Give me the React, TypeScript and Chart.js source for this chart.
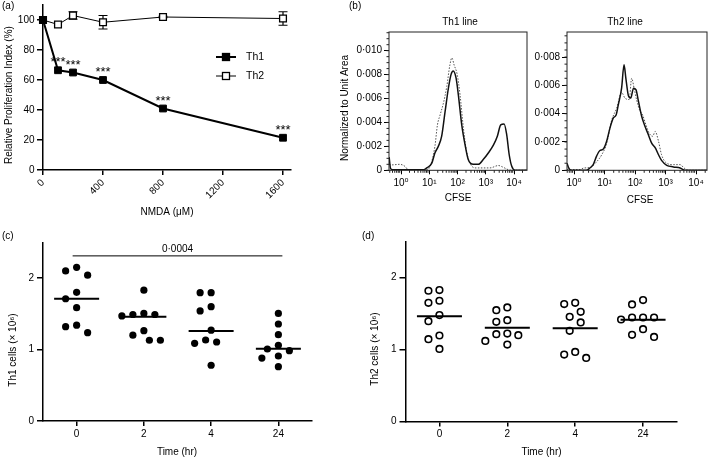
import React, { useEffect, useRef } from 'react';
import { Chart, registerables } from 'chart.js';

Chart.register(...registerables);

const FONT = "'Liberation Sans', Arial, Helvetica, 'DejaVu Sans', sans-serif";
Chart.defaults.font.family = FONT;
Chart.defaults.font.size = 10;
Chart.defaults.color = '#000';

// ---------------- (a) proliferation vs NMDA ----------------
const nmdaDoses = [0, 100, 200, 400, 800, 1600];
const th1Proliferation = [100, 66.5, 65, 60, 41, 21.5];
const th2Proliferation = [100, 97, 103, 98.5, 102, 101];
const th2ProliferationErr = [0, 0, 2.5, 4.5, 0.5, 4.5];
const th1Significance = ['', '***', '***', '***', '***', '***'];
const nmdaTicks = [0, 400, 800, 1200, 1600];
const proliferationTicks = [0, 20, 40, 60, 80, 100];

// ---------------- (b) CFSE histograms (log10 CFSE, density) ----------------
const cfseDecades = [0, 1, 2, 3, 4];
const th1SolidLogCfse = [-0.42, -0.37, -0.3, 0.8, 0.91, 1.09, 1.2, 1.32, 1.44, 1.56, 1.68, 1.77, 1.85, 1.95, 2.03, 2.15, 2.27, 2.38, 2.56, 2.74, 2.91, 3.09, 3.27, 3.41, 3.53, 3.65, 3.74, 3.83, 3.92, 4.04, 4.46];
const th1SolidDensity = [0.0011, 0.00015, 0.00005, 0.00005, 0.0002, 0.0006, 0.00145, 0.002, 0.00285, 0.0049, 0.0069, 0.008, 0.0083, 0.0077, 0.0063, 0.0038, 0.0021, 0.0009, 0.0005, 0.0005, 0.0009, 0.00145, 0.0021, 0.00285, 0.0038, 0.00387, 0.003, 0.0013, 0.00033, 0, 0];
const th1DottedLogCfse = [-0.42, -0.35, -0.04, 0.14, 0.26, 0.9, 1.03, 1.2, 1.29, 1.38, 1.5, 1.62, 1.73, 1.8, 1.88, 1.99, 2.09, 2.21, 2.32, 2.44, 2.62, 3.15, 3.45, 3.62, 3.8, 3.98, 4.46];
const th1DottedDensity = [0.0005, 0.00045, 0.0005, 0.00033, 0.00005, 0.00005, 0.00033, 0.002, 0.0038, 0.0046, 0.0056, 0.007, 0.0088, 0.0094, 0.0088, 0.008, 0.0063, 0.0035, 0.0016, 0.0006, 0.0002, 0.0002, 0.0004, 0.00025, 0.00005, 0, 0];
const th2SolidLogCfse = [-0.23, -0.17, -0.1, 0.4, 0.52, 0.63, 0.74, 0.85, 0.96, 1.07, 1.18, 1.29, 1.38, 1.45, 1.56, 1.64, 1.7, 1.78, 1.86, 1.95, 2.03, 2.11, 2.22, 2.33, 2.44, 2.55, 2.66, 2.77, 2.87, 3.04, 3.26, 3.48, 3.64, 4.36];
const th2SolidDensity = [0.0005, 0.00016, 0, 0, 0.00016, 0.0004, 0.001, 0.0014, 0.0015, 0.00205, 0.003, 0.0037, 0.0039, 0.0046, 0.0058, 0.00745, 0.0065, 0.0053, 0.0051, 0.0058, 0.0057, 0.0049, 0.0038, 0.0031, 0.0025, 0.0019, 0.0016, 0.0011, 0.0007, 0.00035, 0.00024, 0.00016, 0, 0];
const th2DottedLogCfse = [-0.23, 0.2, 0.31, 0.52, 0.74, 0.91, 1.07, 1.23, 1.4, 1.56, 1.67, 1.81, 1.89, 1.97, 2.05, 2.16, 2.25, 2.36, 2.47, 2.58, 2.66, 2.77, 2.87, 3.04, 3.26, 3.48, 3.61, 3.75, 4.36];
const th2DottedDensity = [0.00005, 0.00005, 0.00016, 0.0002, 0.0006, 0.0011, 0.0019, 0.0035, 0.0044, 0.0055, 0.0051, 0.005, 0.0065, 0.0058, 0.005, 0.0042, 0.0039, 0.0032, 0.0026, 0.0024, 0.00275, 0.00205, 0.0011, 0.0005, 0.0004, 0.0004, 0.00016, 0, 0];
const th1DensityTicks = [0, 0.002, 0.004, 0.006, 0.008, 0.01];
const th2DensityTicks = [0, 0.002, 0.004, 0.006, 0.008];

// ---------------- (c), (d) cell counts (x 10^6) ----------------
const timeLabels = ['0', '2', '4', '24'];
const th1Cells0h = [2.15, 2.1, 2.04, 1.8, 1.71, 1.585, 1.34, 1.32, 1.235];
const th1Cells2h = [1.83, 1.505, 1.49, 1.49, 1.47, 1.263, 1.2, 1.13, 1.13];
const th1Cells4h = [1.795, 1.795, 1.6, 1.54, 1.27, 1.133, 1.105, 1.086, 0.78];
const th1Cells24h = [1.505, 1.357, 1.207, 1.058, 1.007, 0.984, 0.909, 0.881, 0.76];
const th1CellsCentre = [1.71, 1.46, 1.26, 1.01];
const th2Cells0h = [1.824, 1.814, 1.675, 1.647, 1.476, 1.392, 1.193, 1.142, 1.007];
const th2Cells2h = [1.582, 1.545, 1.406, 1.383, 1.22, 1.211, 1.197, 1.118, 1.067];
const th2Cells4h = [1.647, 1.629, 1.522, 1.452, 1.374, 1.258, 0.965, 0.928, 0.882];
const th2Cells24h = [1.684, 1.624, 1.443, 1.443, 1.443, 1.415, 1.281, 1.202, 1.174];
const th2CellsCentre = [1.46, 1.3, 1.295, 1.41];
const cellTicks = [0, 1, 2];
const th1Comparison = { from: 0, to: 3, y: 2.31, p: '0·0004' };

// ---------------- helpers ----------------
type Rect = { left: number; top: number; width: number; height: number };
type Area = { left: number; top: number; right: number; bottom: number };
type TextItem = { t: string; x: number; y: number; rot?: number; size?: number; align?: CanvasTextAlign };

const SUP = ['⁰', '¹', '²', '³', '⁴'];
const fmtDensity = (v: number) => (v === 0 ? '0' : v.toFixed(3).replace('.', '·'));

function linAxis(o: any) {
  return {
    type: 'linear',
    min: o.min,
    max: o.max,
    afterBuildTicks: (s: any) => {
      s.ticks = o.ticks.map((v: number) => ({ value: v }));
    },
    afterFit: (s: any) => {
      if (o.horizontal) s.height = o.size;
      else s.width = o.size;
      s.paddingTop = 0;
      s.paddingBottom = 0;
      s.paddingLeft = 0;
      s.paddingRight = 0;
    },
    border: { display: o.border !== false, color: '#000', width: o.width },
    grid: { display: true, drawOnChartArea: false, drawTicks: true, tickLength: o.tickLength, color: '#000', lineWidth: o.width },
    ticks: {
      autoSkip: false,
      padding: o.pad,
      minRotation: o.rotation ?? 0,
      maxRotation: o.rotation ?? 0,
      color: '#000',
      font: { family: FONT, size: 10 },
      callback: (v: any) => o.fmt(Number(v)),
    },
  };
}

function textsPlugin(ox: number, oy: number, items: TextItem[]) {
  return {
    id: 'pageTexts',
    afterDraw(chart: any) {
      const ctx = chart.ctx;
      items.forEach((it) => {
        ctx.save();
        ctx.font = `${it.size ?? 10}px ${FONT}`;
        ctx.fillStyle = '#000';
        ctx.textAlign = it.align ?? 'center';
        ctx.textBaseline = 'middle';
        ctx.translate(it.x - ox, it.y - oy);
        if (it.rot) ctx.rotate(it.rot);
        ctx.fillText(it.t, 0, 0);
        ctx.restore();
      });
    },
  };
}

// the y scale occupies the space left of the plot area, the x scale the space below it
const baseOptions = (rect: Rect, area: Area) => ({
  responsive: false,
  animation: false,
  events: [],
  layout: { padding: { left: 0, bottom: 0, top: area.top - rect.top, right: rect.left + rect.width - area.right }, autoPadding: false },
  plugins: { legend: { display: false }, tooltip: { enabled: false } },
});
const ySize = (rect: Rect, area: Area) => area.left - rect.left;
const xSize = (rect: Rect, area: Area) => rect.top + rect.height - area.bottom;

// ---------------- panel (a) ----------------
const RA: Rect = { left: 0, top: 0, width: 352, height: 228 };
const AA: Area = { left: 43, top: 5, right: 290.5, bottom: 170 };

function buildA() {
  return {
    type: 'scatter',
    data: {
      datasets: [
        {
          label: 'Th1',
          data: nmdaDoses.map((x, i) => ({ x, y: th1Proliferation[i] })),
          showLine: true,
          borderColor: '#000',
          borderWidth: 2,
          pointStyle: 'rect',
          pointRadius: 4.8,
          pointBackgroundColor: '#000',
          pointBorderColor: '#000',
          pointBorderWidth: 1,
          clip: false,
        },
        {
          label: 'Th2',
          data: nmdaDoses.map((x, i) => ({ x, y: th2Proliferation[i] })),
          showLine: true,
          borderColor: '#000',
          borderWidth: 1,
          pointStyle: 'rect',
          pointRadius: 4.8,
          pointBackgroundColor: '#fff',
          pointBorderColor: '#000',
          pointBorderWidth: 1.3,
          clip: false,
        },
      ],
    },
    options: {
      ...baseOptions(RA, AA),
      scales: {
        x: linAxis({ min: 0, max: 1650, ticks: nmdaTicks, fmt: (v: number) => String(v), horizontal: true, size: xSize(RA, AA), tickLength: 5, pad: 2, width: 1.5, rotation: 45 }),
        y: linAxis({ min: 0, max: 110, ticks: proliferationTicks, fmt: (v: number) => String(v), horizontal: false, size: ySize(RA, AA), tickLength: 6, pad: 2.5, width: 1.5 }),
      },
    },
    plugins: [
      {
        id: 'panelA',
        beforeDatasetsDraw(chart: any) {
          const ctx = chart.ctx;
          const xs = chart.scales.x;
          const ys = chart.scales.y;
          ctx.save();
          ctx.strokeStyle = '#000';
          ctx.lineWidth = 1.2;
          nmdaDoses.forEach((d, i) => {
            const e = th2ProliferationErr[i];
            if (!e) return;
            const x = xs.getPixelForValue(d);
            const y1 = ys.getPixelForValue(th2Proliferation[i] + e);
            const y2 = ys.getPixelForValue(th2Proliferation[i] - e);
            ctx.beginPath();
            ctx.moveTo(x, y1);
            ctx.lineTo(x, y2);
            ctx.moveTo(x - 4.5, y1);
            ctx.lineTo(x + 4.5, y1);
            ctx.moveTo(x - 4.5, y2);
            ctx.lineTo(x + 4.5, y2);
            ctx.stroke();
          });
          ctx.restore();
        },
        afterDatasetsDraw(chart: any) {
          const ctx = chart.ctx;
          const xs = chart.scales.x;
          const ys = chart.scales.y;
          ctx.save();
          ctx.fillStyle = '#000';
          ctx.font = `13px ${FONT}`;
          ctx.textAlign = 'center';
          ctx.textBaseline = 'alphabetic';
          nmdaDoses.forEach((d, i) => {
            if (!th1Significance[i]) return;
            ctx.fillText(th1Significance[i], xs.getPixelForValue(d), ys.getPixelForValue(th1Proliferation[i]) - 4);
          });
          // legend
          const items = [
            { y: 57, fill: '#000', lw: 2 },
            { y: 76, fill: '#fff', lw: 1 },
          ];
          items.forEach((it) => {
            ctx.strokeStyle = '#000';
            ctx.lineWidth = it.lw;
            ctx.beginPath();
            ctx.moveTo(216, it.y);
            ctx.lineTo(236, it.y);
            ctx.stroke();
            ctx.fillStyle = it.fill;
            ctx.fillRect(222.5, it.y - 3.5, 7, 7);
            ctx.lineWidth = 1.3;
            ctx.strokeRect(222.5, it.y - 3.5, 7, 7);
          });
          ctx.restore();
        },
      },
      textsPlugin(RA.left, RA.top, [
        { t: '(a)', x: 2, y: 6, align: 'left' },
        { t: 'Relative Proliferation Index (%)', x: 9, y: 95, rot: -Math.PI / 2 },
        { t: 'NMDA (μM)', x: 167, y: 212 },
        { t: 'Th1', x: 246, y: 57, align: 'left', size: 10.5 },
        { t: 'Th2', x: 246, y: 76, align: 'left', size: 10.5 },
      ]),
    ],
  };
}

// ---------------- panel (b) ----------------
function framePlugin(yMinorStep: number) {
  return {
    id: 'frame',
    afterDraw(chart: any) {
      const ctx = chart.ctx;
      const a = chart.chartArea;
      const xs = chart.scales.x;
      const ys = chart.scales.y;
      ctx.save();
      ctx.strokeStyle = '#222';
      ctx.lineWidth = 1;
      ctx.strokeRect(a.left, a.top, a.right - a.left, a.bottom - a.top);
      ctx.beginPath();
      for (let v = 0; v <= ys.max + 1e-12; v += yMinorStep) {
        const y = ys.getPixelForValue(v);
        ctx.moveTo(a.left - 2.5, y);
        ctx.lineTo(a.left, y);
      }
      for (let d = -1; d <= 4; d++) {
        for (let k = 2; k <= 9; k++) {
          const v = d + Math.log10(k);
          if (v < xs.min || v > xs.max) continue;
          const x = xs.getPixelForValue(v);
          ctx.moveTo(x, a.bottom);
          ctx.lineTo(x, a.bottom + 2.5);
        }
      }
      ctx.stroke();
      ctx.restore();
    },
  };
}

function flowConfig(p: any) {
  return {
    type: 'scatter',
    data: {
      datasets: [
        {
          data: p.solidX.map((x: number, i: number) => ({ x, y: p.solidY[i] })),
          showLine: true,
          borderColor: '#111',
          borderWidth: 1.5,
          pointRadius: 0,
          cubicInterpolationMode: 'monotone',
        },
        {
          data: p.dotX.map((x: number, i: number) => ({ x, y: p.dotY[i] })),
          showLine: true,
          borderColor: '#555',
          borderWidth: 1,
          borderDash: [1.5, 1.5],
          pointRadius: 0,
          cubicInterpolationMode: 'monotone',
        },
      ],
    },
    options: {
      ...baseOptions(p.rect, p.area),
      scales: {
        x: linAxis({ min: p.xMin, max: p.xMax, ticks: cfseDecades, fmt: (v: number) => '10' + SUP[v], horizontal: true, size: xSize(p.rect, p.area), tickLength: 4, pad: 3, width: 1, border: false }),
        y: linAxis({ min: 0, max: p.yMax, ticks: p.yTicks, fmt: fmtDensity, horizontal: false, size: ySize(p.rect, p.area), tickLength: 5, pad: 2, width: 1, border: false }),
      },
    },
    plugins: [framePlugin(0.0005), textsPlugin(p.rect.left, p.rect.top, p.texts)],
  };
}

const RB1: Rect = { left: 335, top: 0, width: 200, height: 215 };
const AB1: Area = { left: 389, top: 32, right: 527, bottom: 170.3 };
const RB2: Rect = { left: 530, top: 0, width: 179, height: 215 };
const AB2: Area = { left: 567, top: 32, right: 707, bottom: 170.3 };

const buildB1 = () =>
  flowConfig({
    rect: RB1,
    area: AB1,
    xMin: -0.425,
    xMax: 4.46,
    yMax: 0.01156,
    yTicks: th1DensityTicks,
    solidX: th1SolidLogCfse,
    solidY: th1SolidDensity,
    dotX: th1DottedLogCfse,
    dotY: th1DottedDensity,
    texts: [
      { t: '(b)', x: 349, y: 6, align: 'left' },
      { t: 'Th1 line', x: 460, y: 22 },
      { t: 'Normalized to Unit Area', x: 345, y: 108, rot: -Math.PI / 2 },
      { t: 'CFSE', x: 458, y: 198 },
    ],
  });

const buildB2 = () =>
  flowConfig({
    rect: RB2,
    area: AB2,
    xMin: -0.23,
    xMax: 4.36,
    yMax: 0.00977,
    yTicks: th2DensityTicks,
    solidX: th2SolidLogCfse,
    solidY: th2SolidDensity,
    dotX: th2DottedLogCfse,
    dotY: th2DottedDensity,
    texts: [
      { t: 'Th2 line', x: 625, y: 22 },
      { t: 'CFSE', x: 640, y: 200 },
    ],
  });

// ---------------- panels (c), (d) ----------------
function beeswarm(chart: any, groups: number[][]) {
  const xs = chart.scales.x;
  const ys = chart.scales.y;
  const pxPerUnit = xs.getPixelForValue(1) - xs.getPixelForValue(0);
  const step = 5.5;
  const minDist = 10.5;
  groups.forEach((vals, g) => {
    const placed: { dx: number; py: number }[] = [];
    const out: any[] = new Array(vals.length);
    const order = vals.map((_, i) => i).sort((a, b) => vals[b] - vals[a]);
    order.forEach((i) => {
      const py = ys.getPixelForValue(vals[i]);
      let chosen = 0;
      for (let k = 0; k < 40; k++) {
        const m = Math.ceil(k / 2) * (k % 2 === 1 ? -1 : 1);
        const dx = m * step;
        if (placed.every((p) => Math.hypot(p.dx - dx, p.py - py) >= minDist)) {
          chosen = dx;
          break;
        }
      }
      placed.push({ dx: chosen, py });
      out[i] = { x: g + chosen / pxPerUnit, y: vals[i] };
    });
    chart.data.datasets[g].data = out;
  });
  chart.update('none');
}

function dotConfig(p: any) {
  return {
    type: 'scatter',
    data: {
      datasets: p.groups.map((vals: number[], g: number) => ({
        data: vals.map((y) => ({ x: g, y })),
        pointRadius: p.filled ? 3.6 : 3.3,
        pointBackgroundColor: p.filled ? '#000' : '#fff',
        pointBorderColor: '#000',
        pointBorderWidth: p.filled ? 0 : 1.6,
        clip: false,
      })),
    },
    options: {
      ...baseOptions(p.rect, p.area),
      scales: {
        x: linAxis({ min: -0.5, max: 3.5, ticks: [0, 1, 2, 3], fmt: (v: number) => timeLabels[v] ?? '', horizontal: true, size: xSize(p.rect, p.area), tickLength: 5, pad: 2, width: 1.5 }),
        y: linAxis({ min: 0, max: 2.5, ticks: cellTicks, fmt: (v: number) => String(v), horizontal: false, size: ySize(p.rect, p.area), tickLength: 6, pad: 3, width: 1.5 }),
      },
    },
    plugins: [
      {
        id: 'centres',
        afterDatasetsDraw(chart: any) {
          const ctx = chart.ctx;
          const xs = chart.scales.x;
          const ys = chart.scales.y;
          ctx.save();
          ctx.strokeStyle = '#000';
          ctx.lineWidth = 2;
          ctx.beginPath();
          p.centre.forEach((c: number, g: number) => {
            const x = xs.getPixelForValue(g);
            const y = ys.getPixelForValue(c);
            ctx.moveTo(x - 22.5, y);
            ctx.lineTo(x + 22.5, y);
          });
          ctx.stroke();
          if (p.comparison) {
            const cmp = p.comparison;
            const y = ys.getPixelForValue(cmp.y);
            const x1 = xs.getPixelForValue(cmp.from) - 4;
            const x2 = xs.getPixelForValue(cmp.to) + 4;
            ctx.lineWidth = 1;
            ctx.beginPath();
            ctx.moveTo(x1, y);
            ctx.lineTo(x2, y);
            ctx.stroke();
            ctx.fillStyle = '#000';
            ctx.font = `10px ${FONT}`;
            ctx.textAlign = 'center';
            ctx.textBaseline = 'middle';
            ctx.fillText(cmp.p, (x1 + x2) / 2, y - 7);
          }
          ctx.restore();
        },
      },
      textsPlugin(p.rect.left, p.rect.top, p.texts),
    ],
  };
}

const RC: Rect = { left: 0, top: 228, width: 352, height: 231 };
const AC: Area = { left: 43, top: 242.3, right: 312, bottom: 421 };
const RD: Rect = { left: 352, top: 228, width: 357, height: 231 };
const AD: Area = { left: 405.5, top: 241.3, right: 677, bottom: 421.5 };

const th1Groups = [th1Cells0h, th1Cells2h, th1Cells4h, th1Cells24h];
const th2Groups = [th2Cells0h, th2Cells2h, th2Cells4h, th2Cells24h];

const buildC = () =>
  dotConfig({
    rect: RC,
    area: AC,
    groups: th1Groups,
    centre: th1CellsCentre,
    filled: true,
    comparison: th1Comparison,
    texts: [
      { t: '(c)', x: 2, y: 236, align: 'left' },
      { t: 'Th1 cells (× 10⁶)', x: 13, y: 350, rot: -Math.PI / 2 },
      { t: 'Time (hr)', x: 177, y: 452 },
    ],
  });

const buildD = () =>
  dotConfig({
    rect: RD,
    area: AD,
    groups: th2Groups,
    centre: th2CellsCentre,
    filled: false,
    texts: [
      { t: '(d)', x: 362, y: 236, align: 'left' },
      { t: 'Th2 cells (× 10⁶)', x: 375, y: 349, rot: -Math.PI / 2 },
      { t: 'Time (hr)', x: 541.5, y: 452 },
    ],
  });

// ---------------- components ----------------
function ChartCanvas({ rect, build, after }: { rect: Rect; build: () => any; after?: (c: any) => void }) {
  const ref = useRef<HTMLCanvasElement | null>(null);
  useEffect(() => {
    if (!ref.current) return;
    const chart = new Chart(ref.current, build());
    if (after) after(chart);
    return () => chart.destroy();
  }, []);
  return (
    <canvas
      ref={ref}
      width={rect.width}
      height={rect.height}
      style={{ position: 'absolute', left: rect.left, top: rect.top, width: rect.width, height: rect.height }}
    />
  );
}

export default function App() {
  useEffect(() => {
    document.body.style.margin = '0';
  }, []);
  return (
    <div style={{ position: 'fixed', left: 0, top: 0, width: 709, height: 459, background: '#fff', overflow: 'hidden' }}>
      <ChartCanvas rect={RA} build={buildA} />
      <ChartCanvas rect={RB1} build={buildB1} />
      <ChartCanvas rect={RB2} build={buildB2} />
      <ChartCanvas rect={RC} build={buildC} after={(c) => beeswarm(c, th1Groups)} />
      <ChartCanvas rect={RD} build={buildD} after={(c) => beeswarm(c, th2Groups)} />
    </div>
  );
}
